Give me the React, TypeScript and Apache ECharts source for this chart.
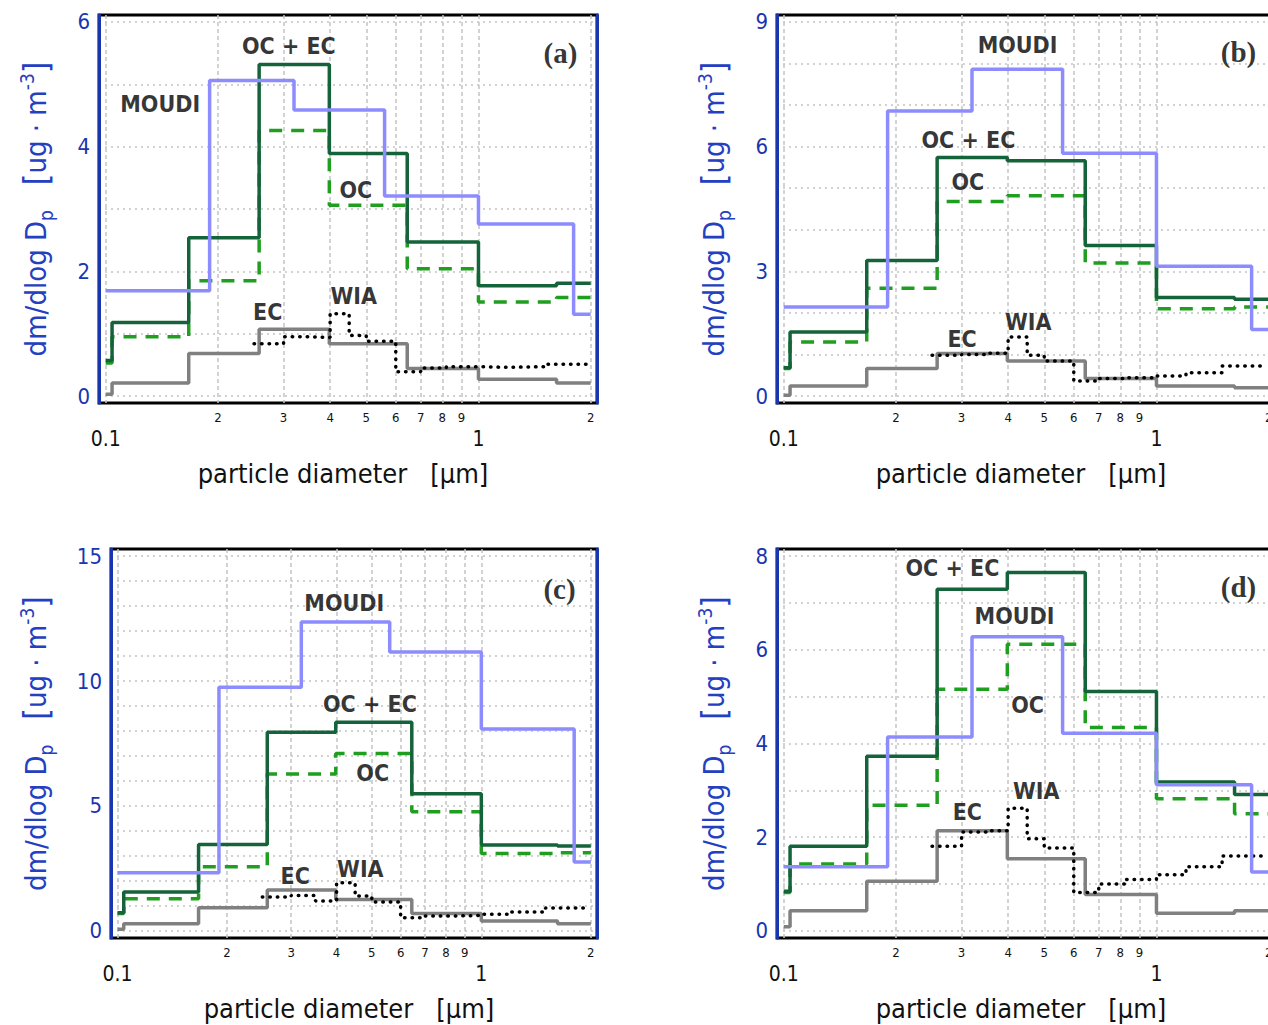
import React, { useEffect, useRef } from "react";
import * as echarts from "echarts";

// ---------- data ----------
const elpiBins = [0.1, 0.104, 0.167, 0.258, 0.398, 0.644, 1.0, 1.62, 2.0];
const moudiBins = [0.1, 0.19, 0.32, 0.56, 1.0, 1.8, 2.0];
const wiaBins = [0.25, 0.3, 0.35, 0.4, 0.45, 0.5, 0.6, 0.7, 0.82, 1.0, 1.2, 1.5, 1.95];

const ocecA = [0.57, 1.18, 2.54, 5.32, 3.89, 2.47, 1.77, 1.81];
const ocA = [0.53, 0.95, 1.85, 4.26, 3.06, 2.04, 1.51, 1.58];
const ecA = [0.03, 0.21, 0.68, 1.07, 0.84, 0.44, 0.27, 0.21];
const moudiA = [1.69, 5.06, 4.59, 3.21, 2.76, 1.31];
const wiaA = [0.84, 0.95, 0.94, 1.32, 0.97, 0.88, 0.39, 0.45, 0.47, 0.46, 0.47, 0.51];

const ocecB = [0.68, 1.54, 3.26, 5.74, 5.66, 3.62, 2.37, 2.33];
const ocB = [0.66, 1.3, 2.59, 4.68, 4.82, 3.2, 2.1, 2.14];
const ecB = [0.02, 0.24, 0.66, 1.02, 0.84, 0.42, 0.24, 0.2];
const moudiB = [2.14, 6.86, 7.86, 5.84, 3.12, 1.6];
const wiaB = [0.98, 1.0, 1.03, 1.42, 0.98, 0.84, 0.36, 0.42, 0.44, 0.48, 0.56, 0.72];

const ocecC = [0.73, 1.56, 3.46, 7.95, 8.35, 5.49, 3.44, 3.4];
const ocC = [0.7, 1.29, 2.57, 6.28, 7.1, 4.77, 3.1, 3.13];
const ecC = [0.07, 0.29, 0.93, 1.64, 1.26, 0.7, 0.4, 0.29];
const moudiC = [2.33, 9.75, 12.36, 11.16, 8.08, 2.76];
const wiaC = [1.36, 1.42, 1.2, 1.93, 1.4, 1.16, 0.53, 0.6, 0.62, 0.67, 0.76, 0.92];

const ocecD = [0.85, 1.81, 3.73, 7.29, 7.65, 5.11, 3.18, 2.91];
const ocD = [0.82, 1.43, 2.68, 5.16, 6.12, 4.34, 2.82, 2.5];
const ecD = [0.09, 0.43, 1.06, 2.14, 1.54, 0.78, 0.38, 0.43];
const moudiD = [1.37, 4.14, 6.28, 4.22, 3.12, 1.26];
const wiaD = [1.81, 2.11, 2.14, 2.62, 1.97, 1.77, 0.82, 1.0, 1.1, 1.2, 1.37, 1.6];

// tick values
const xGridDiam = [0.1, 0.2, 0.3, 0.4, 0.5, 0.6, 0.7, 0.8, 0.9, 1, 2];
const xMinorLabels = [0.2, 0.3, 0.4, 0.5, 0.6, 0.7, 0.8, 0.9, 2];
const xMajorLabels = [0.1, 1];

const yLabelsA = [0, 2, 4, 6];
const yGridA = [0, 1, 2, 3, 4, 5, 6];
const yLabelsB = [0, 3, 6, 9];
const yGridB = [0, 1, 2, 3, 4, 5, 6, 7, 8, 9];
const yLabelsC = [0, 5, 10, 15];
const yGridC = [0, 1, 2, 3, 4, 5, 6, 7, 8, 9, 10, 11, 12, 13, 14, 15];
const yLabelsD = [0, 2, 4, 6, 8];
const yGridD = [0, 1, 2, 3, 4, 5, 6, 7, 8];

// annotations: [diameter, value, text]
const notesA: [number, number, string][] = [
  [0.31, 5.62, "OC + EC"], [0.14, 4.68, "MOUDI"], [0.469, 3.3, "OC"], [0.272, 1.35, "EC"], [0.463, 1.6, "WIA"],
];
const notesB: [number, number, string][] = [
  [0.424, 8.45, "MOUDI"], [0.313, 6.17, "OC + EC"], [0.312, 5.16, "OC"], [0.301, 1.37, "EC"], [0.453, 1.78, "WIA"],
];
const notesC: [number, number, string][] = [
  [0.42, 13.12, "MOUDI"], [0.494, 9.07, "OC + EC"], [0.503, 6.3, "OC"], [0.308, 2.21, "EC"], [0.465, 2.49, "WIA"],
];
const notesD: [number, number, string][] = [
  [0.2835, 7.74, "OC + EC"], [0.416, 6.72, "MOUDI"], [0.451, 4.82, "OC"], [0.311, 2.54, "EC"], [0.476, 2.99, "WIA"],
];
const tags: [number, number, string][] = [
  [1.66, 5.51, "(a)"], [1.66, 8.28, "(b)"], [1.64, 13.7, "(c)"], [1.66, 7.33, "(d)"],
];

// ---------- style / layout ----------
const LOG = (d: number) => Math.log10(d);
const X_MIN = -1.018;
const X_MAX = 0.318;
const BLUE = "#1a35b0";
const NAME_BLUE = "#2440c0";
const SANS = '"DejaVu Sans Condensed", "DejaVu Sans", sans-serif';
const GRID_COLOR = "#c4c4c4";

const panels = [
  { left: 99, top: 15, width: 498, height: 388, yMax: 6, yLabels: yLabelsA, yGrid: yGridA, ocec: ocecA, oc: ocA, ec: ecA, moudi: moudiA, wia: wiaA, notes: notesA, nameGap: 44 },
  { left: 777, top: 15, width: 498, height: 388, yMax: 9, yLabels: yLabelsB, yGrid: yGridB, ocec: ocecB, oc: ocB, ec: ecB, moudi: moudiB, wia: wiaB, notes: notesB, nameGap: 44 },
  { left: 111, top: 549, width: 486, height: 389, yMax: 15, yLabels: yLabelsC, yGrid: yGridC, ocec: ocecC, oc: ocC, ec: ecC, moudi: moudiC, wia: wiaC, notes: notesC, nameGap: 56 },
  { left: 777, top: 549, width: 498, height: 389, yMax: 8, yLabels: yLabelsD, yGrid: yGridD, ocec: ocecD, oc: ocD, ec: ecD, moudi: moudiD, wia: wiaD, notes: notesD, nameGap: 44 },
];

function steps(bins: number[], vals: number[]) {
  const pts: number[][] = vals.map((v, i) => [LOG(bins[i]), v]);
  pts.push([LOG(bins[vals.length]), vals[vals.length - 1]]);
  return pts;
}

function minorFmt(v: number) {
  const d = Math.pow(10, v);
  return d < 1 ? String(Math.round(d * 10)) : String(Math.round(d));
}
function majorFmt(v: number) {
  const d = Math.pow(10, v);
  return d < 0.5 ? "0.1" : "1";
}

function buildOption() {
  const grid: any[] = [];
  const xAxis: any[] = [];
  const yAxis: any[] = [];
  const series: any[] = [];

  panels.forEach((p, i) => {
    const pad = p.yMax * 0.0187;
    grid.push({
      left: p.left, top: p.top, width: p.width, height: p.height,
      show: true, borderColor: "#000", borderWidth: 3, backgroundColor: "#fff",
    });
    xAxis.push({
      type: "value", gridIndex: i, min: X_MIN, max: X_MAX, position: "bottom",
      axisLine: { show: false, onZero: false },
      axisTick: { show: false, customValues: xGridDiam.map(LOG) },
      axisLabel: { customValues: xMinorLabels.map(LOG), formatter: minorFmt, fontSize: 13, color: "#111", margin: 8, fontFamily: SANS },
      splitLine: { show: true, lineStyle: { color: GRID_COLOR, width: 1.5, type: [4, 3] } },
      name: "particle diameter   [\u00b5m]", nameLocation: "middle", nameGap: 57,
      nameTextStyle: { fontSize: 27, color: "#111", fontFamily: SANS, padding: [0, 10, 0, 0] },
    });
    xAxis.push({
      type: "value", gridIndex: i, min: X_MIN, max: X_MAX, position: "bottom",
      axisLine: { show: false, onZero: false },
      axisTick: { show: false },
      splitLine: { show: false },
      axisLabel: { customValues: xMajorLabels.map(LOG), formatter: majorFmt, fontSize: 21, color: "#111", margin: 25, fontFamily: SANS },
    });
    yAxis.push({
      type: "value", gridIndex: i, min: -pad, max: p.yMax + pad, position: "left",
      axisLine: { show: true, onZero: false, lineStyle: { color: BLUE, width: 3 } },
      axisTick: { show: false, customValues: p.yGrid },
      axisLabel: { customValues: p.yLabels, color: BLUE, fontSize: 22, margin: 9, fontFamily: SANS },
      splitLine: { show: true, lineStyle: { color: GRID_COLOR, width: 1.5, type: [2, 4] } },
      name: "{m|dm/dlog D}{sub|p}{m|   }{br|[}{m|ug \u00b7 m}{sup|-3}{br|]}",
      nameLocation: "middle", nameGap: p.nameGap, nameRotate: 90,
      nameTextStyle: {
        color: NAME_BLUE, fontFamily: SANS,
        rich: {
          m: { fontSize: 29, color: NAME_BLUE, fontFamily: SANS, lineHeight: 38 },
          sub: { fontSize: 19, color: NAME_BLUE, fontFamily: SANS, lineHeight: 19, verticalAlign: "bottom" },
          sup: { fontSize: 19, color: NAME_BLUE, fontFamily: SANS, lineHeight: 19, verticalAlign: "top" },
          br: { fontSize: 33, color: NAME_BLUE, fontFamily: SANS, lineHeight: 38 },
        },
      },
    });
    yAxis.push({
      type: "value", gridIndex: i, min: -pad, max: p.yMax + pad, position: "right",
      axisLine: { show: true, onZero: false, lineStyle: { color: BLUE, width: 3 } },
      axisTick: { show: false }, axisLabel: { show: false }, splitLine: { show: false },
    });

    const xi = i * 2;
    const yi = i * 2;
    const base = { type: "line", xAxisIndex: xi, yAxisIndex: yi, step: "end", symbol: "none", showSymbol: false, silent: true };
    series.push({ ...base, name: "EC", data: steps(elpiBins, p.ec), lineStyle: { color: "#808080", width: 3.5 }, z: 2 });
    series.push({ ...base, name: "WIA", data: steps(wiaBins, p.wia), lineStyle: { color: "#000", width: 3.5, type: [0.5, 7], cap: "round" }, z: 3 });
    series.push({ ...base, name: "OC", data: steps(elpiBins, p.oc), lineStyle: { color: "#1f9e1f", width: 3.5, type: [13, 9] }, z: 4 });
    series.push({ ...base, name: "OC + EC", data: steps(elpiBins, p.ocec), lineStyle: { color: "#15633a", width: 3.5 }, z: 5 });
    series.push({ ...base, name: "MOUDI", data: steps(moudiBins, p.moudi), lineStyle: { color: "#8c8cff", width: 3.5 }, z: 6 });
    series.push({
      type: "scatter", xAxisIndex: xi, yAxisIndex: yi, silent: true, symbolSize: 1,
      itemStyle: { color: "rgba(0,0,0,0)" }, z: 10,
      data: p.notes.map((n) => [LOG(n[0]), n[1], n[2]]),
      label: { show: true, position: "inside", formatter: (q: any) => q.data[2], fontSize: 23, fontWeight: "bold", color: "#000", fontFamily: SANS },
    });
    series.push({
      type: "scatter", xAxisIndex: xi, yAxisIndex: yi, silent: true, symbolSize: 1,
      itemStyle: { color: "rgba(0,0,0,0)" }, z: 10,
      data: [[LOG(tags[i][0]), tags[i][1], tags[i][2]]],
      label: { show: true, position: "inside", formatter: (q: any) => q.data[2], fontSize: 29, fontWeight: "bold", color: "#000", fontFamily: '"Liberation Serif", "DejaVu Serif", serif' },
    });
  });

  return { animation: false, backgroundColor: "#fff", grid, xAxis, yAxis, series };
}

export default function App() {
  const ref = useRef<HTMLDivElement>(null);
  useEffect(() => {
    if (!ref.current) return;
    const chart = echarts.init(ref.current, undefined, { renderer: "svg" });
    chart.setOption(buildOption() as any);
    return () => chart.dispose();
  }, []);
  return (
    <div style={{ position: "absolute", left: 0, top: 0, width: 1268, height: 1025, overflow: "hidden", background: "#fff" }}>
      <div ref={ref} style={{ width: 1300, height: 1025 }} />
    </div>
  );
}
